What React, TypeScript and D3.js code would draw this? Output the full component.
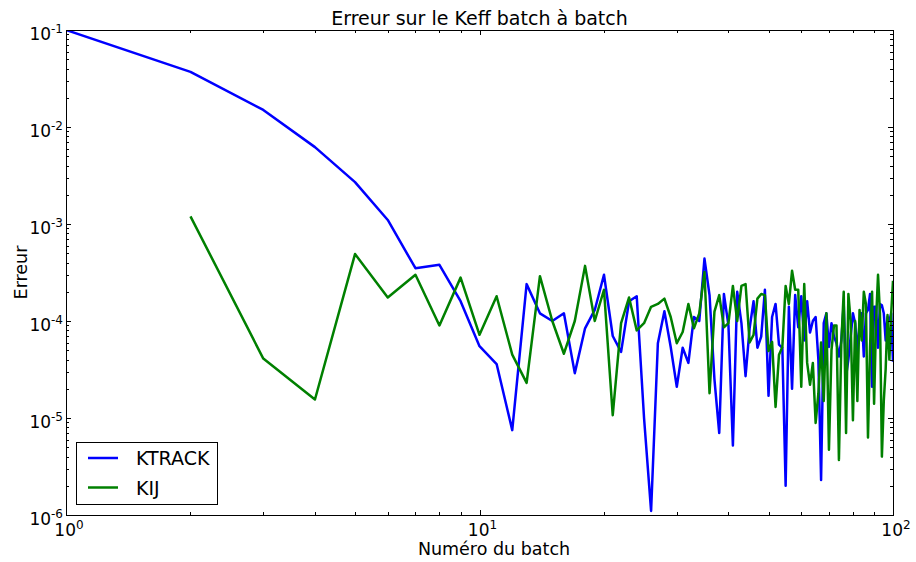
import React, { useEffect, useRef } from "react";
import * as d3 from "d3";

// batch numbers start at 1 for KTRACK and at 2 for KIJ
const ktrackErr = [
  0.1, 0.037, 0.015, 0.0062, 0.0027, 0.0011, 3.5e-4, 3.8e-4, 1.6e-4, 5.5e-5,
  3.6e-5, 7.5e-6, 2.4e-4, 1.2e-4, 1.0e-4, 1.2e-4, 2.9e-5, 8.4e-5, 1.3e-4, 3.0e-4,
  7.0e-5, 4.8e-5, 1.6e-4, 1.8e-4, 1.0e-5, 1.1e-6, 5.9e-5, 1.26e-4, 5.4e-5, 2.1e-5,
  5.3e-5, 3.7e-5, 1.1e-4, 1.0e-4, 4.4e-4, 1.85e-4, 2.5e-5, 7e-6, 1.9e-4, 9e-5,
  5.2e-6, 2.0e-4, 9.5e-5, 2.7e-5, 8.4e-5, 1.6e-4, 5.3e-5, 6.9e-5, 2.1e-4, 1.7e-5,
  1.1e-4, 1.5e-4, 5.7e-5, 5.3e-5, 2.0e-6, 1.4e-4, 2.0e-5, 1.85e-4, 8.6e-5, 1.8e-4,
  6.3e-5, 1.6e-4, 7.6e-5, 1.0e-4, 1.1e-4, 4.0e-5, 2.3e-6, 9.5e-5, 1.2e-4, 5.4e-5,
  9.5e-5, 6.9e-5, 5.9e-5, 4.3e-5, 6.3e-5, 1.5e-4, 2.7e-5, 4.0e-5, 6.9e-5, 1.2e-4,
  9.5e-5, 4.7e-5, 9.5e-5, 1.2e-4, 4.3e-5, 1.2e-4, 1.3e-4, 1.9e-4, 2.1e-5, 1.4e-4,
  1.4e-4, 5.3e-5, 1.5e-4, 1.45e-4, 1.2e-4, 6.3e-5, 1.1e-4, 1.0e-4, 1.2e-4, 3.8e-5,
];

const kijErr = [
  1.2e-3, 4.1e-5, 1.55e-5, 4.9e-4, 1.75e-4, 3.0e-4, 9e-5, 2.8e-4, 7.2e-5,
  1.8e-4, 4.5e-5, 2.3e-5, 2.9e-4, 1.0e-4, 4.6e-5, 1.0e-4, 3.7e-4, 1.0e-4, 2.1e-4,
  1.07e-5, 9.5e-5, 1.75e-4, 8e-5, 9.5e-5, 1.4e-4, 1.5e-4, 1.7e-4, 1.1e-4, 5.9e-5,
  7.7e-5, 1.5e-4, 8.4e-5, 1.2e-4, 3.2e-4, 1.8e-5, 1.25e-4, 1.85e-4, 8.6e-5, 9.5e-5,
  2.3e-4, 1.0e-4, 2.3e-4, 2.4e-4, 6.0e-5, 7.2e-5, 1.7e-4, 1.9e-4, 1.85e-4, 4.9e-5,
  6.1e-5, 1.3e-5, 4.5e-5, 5.4e-5, 2.3e-4, 1.5e-4, 3.3e-4, 2.1e-4, 2.1e-4, 2.1e-5,
  2.4e-4, 3.7e-5, 2.2e-5, 3.7e-5, 8.9e-6, 1.8e-5, 6e-5, 1.5e-5, 1.2e-4, 4.7e-6,
  5e-5, 9e-5, 9e-5, 3.7e-6, 6e-5, 2.0e-4, 7e-6, 1.9e-4, 1.0e-4, 9.5e-6,
  1.0e-4, 1.5e-5, 1.3e-4, 6.3e-5, 2.0e-4, 1.5e-4, 6.3e-6, 5.4e-5, 2.0e-4, 1.4e-5,
  1.0e-4, 3.0e-4, 1.2e-4, 4e-6, 1.5e-5, 3.2e-5, 1.15e-4, 4e-5, 1.2e-4, 2.6e-4,
];

const seriesNames = ["KTRACK", "KIJ"];
const seriesColors = ["#0000ff", "#008000"];
const xExponents = [0, 1, 2];
const yExponents = [-6, -5, -4, -3, -2, -1];

const App = () => {
  const ref = useRef<SVGSVGElement>(null);

  useEffect(() => {
    const svg = d3.select(ref.current);
    svg.selectAll("*").remove();

    const font = "'DejaVu Sans', sans-serif";
    const left = 66, right = 893, top = 30, bottom = 515;

    const x = d3.scaleLog().domain([1, 100]).range([left, right]);
    const y = d3.scaleLog().domain([1e-6, 1e-1]).range([bottom, top]);

    const data = [
      ktrackErr.map((v, i) => ({ b: i + 1, v })),
      kijErr.map((v, i) => ({ b: i + 2, v })),
    ];

    svg.append("rect").attr("width", 916).attr("height", 562).attr("fill", "#fff");

    svg.append("defs").append("clipPath").attr("id", "plot-clip")
      .append("rect")
      .attr("x", left).attr("y", top)
      .attr("width", right - left).attr("height", bottom - top);

    const line = d3.line<{ b: number; v: number }>()
      .x(d => x(d.b))
      .y(d => y(d.v));

    svg.append("g").attr("clip-path", "url(#plot-clip)")
      .selectAll("path")
      .data(data)
      .enter()
      .append("path")
      .attr("d", d => line(d))
      .attr("fill", "none")
      .attr("stroke", (d, i) => seriesColors[i])
      .attr("stroke-width", 2.5)
      .attr("stroke-linejoin", "round");

    // ticks, inside, on all four sides
    const ticks = svg.append("g").attr("stroke", "#000").attr("stroke-width", 1);
    const xMinor: number[] = [];
    for (let e = 0; e < 2; e++) for (let k = 2; k <= 9; k++) xMinor.push(k * Math.pow(10, e));
    const yMinor: number[] = [];
    for (let e = -6; e < -1; e++) for (let k = 2; k <= 9; k++) yMinor.push(k * Math.pow(10, e));

    const xTick = (v: number, len: number) => {
      const px = Math.round(x(v)) + 0.5;
      ticks.append("line").attr("x1", px).attr("x2", px).attr("y1", bottom).attr("y2", bottom - len);
      ticks.append("line").attr("x1", px).attr("x2", px).attr("y1", top).attr("y2", top + len);
    };
    const yTick = (v: number, len: number) => {
      const py = Math.round(y(v)) + 0.5;
      ticks.append("line").attr("y1", py).attr("y2", py).attr("x1", left).attr("x2", left + len);
      ticks.append("line").attr("y1", py).attr("y2", py).attr("x1", right).attr("x2", right - len);
    };
    xMinor.forEach(v => xTick(v, 3));
    xExponents.forEach(e => xTick(Math.pow(10, e), 5));
    yMinor.forEach(v => yTick(v, 3));
    yExponents.forEach(e => yTick(Math.pow(10, e), 5));

    svg.append("rect")
      .attr("x", left + 0.5).attr("y", top + 0.5)
      .attr("width", right - left).attr("height", bottom - top)
      .attr("fill", "none").attr("stroke", "#000").attr("stroke-width", 1);

    // tick labels with superscript exponents
    const powLabel = (g: d3.Selection<SVGTextElement, unknown, null, undefined>, e: number) => {
      g.append("tspan").text("10");
      g.append("tspan").attr("dy", -7.5).attr("font-size", 12).text(String(e));
    };

    xExponents.forEach(e => {
      const t = svg.append("text")
        .attr("x", x(Math.pow(10, e)) + 3).attr("y", 536)
        .attr("text-anchor", "middle")
        .attr("font-family", font).attr("font-size", 17).attr("fill", "#000");
      powLabel(t, e);
    });

    yExponents.forEach(e => {
      const t = svg.append("text")
        .attr("x", 63).attr("y", y(Math.pow(10, e)) + 10)
        .attr("text-anchor", "end")
        .attr("font-family", font).attr("font-size", 17).attr("fill", "#000");
      powLabel(t, e);
    });

    svg.append("text")
      .attr("x", (left + right) / 2).attr("y", 25)
      .attr("text-anchor", "middle")
      .attr("font-family", font).attr("font-size", 19)
      .text("Erreur sur le Keff batch à batch");

    svg.append("text")
      .attr("x", 494).attr("y", 555)
      .attr("text-anchor", "middle")
      .attr("font-family", font).attr("font-size", 17.5)
      .text("Numéro du batch");

    svg.append("text")
      .attr("transform", `translate(27, ${(top + bottom) / 2}) rotate(-90)`)
      .attr("text-anchor", "middle")
      .attr("font-family", font).attr("font-size", 17.5)
      .text("Erreur");

    // legend
    const legend = svg.append("g");
    legend.append("rect")
      .attr("x", 76.5).attr("y", 442.5).attr("width", 141).attr("height", 62)
      .attr("fill", "#fff").attr("stroke", "#000").attr("stroke-width", 1);
    seriesNames.forEach((name, i) => {
      const ly = 458 + i * 29.5;
      legend.append("line")
        .attr("x1", 88).attr("x2", 118).attr("y1", ly).attr("y2", ly)
        .attr("stroke", seriesColors[i]).attr("stroke-width", 2.5);
      legend.append("text")
        .attr("x", 136).attr("y", ly + 7)
        .attr("font-family", font).attr("font-size", 19)
        .text(name);
    });
  }, []);

  return <svg ref={ref} width={916} height={562} style={{ display: "block", position: "absolute", left: 0, top: 0 }} />;
};

export default App;
